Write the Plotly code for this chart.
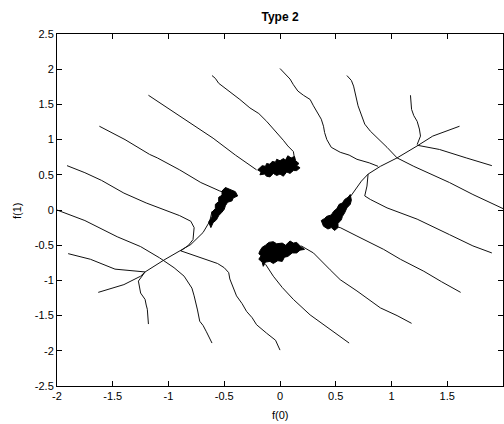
import plotly.graph_objects as go

# ---- trajectories (data coordinates f(0), f(1)) ----
traj_a_x = [-2.0, -1.75, -1.46, -1.25, -1.08, -0.95, -0.86, -0.79, -0.77, -0.75, -0.74, -0.72, -0.69, -0.66, -0.63, -0.61]
traj_a_y = [0.0, -0.15, -0.38, -0.52, -0.68, -0.82, -0.94, -1.11, -1.22, -1.33, -1.42, -1.58, -1.64, -1.73, -1.82, -1.89]

traj_b_x = [-1.91, -1.75, -1.60, -1.40, -1.20, -1.01, -0.90, -0.80, -0.77, -0.78, -0.82, -0.89]
traj_b_y = [0.63, 0.53, 0.42, 0.24, 0.10, -0.02, -0.08, -0.16, -0.25, -0.42, -0.50, -0.58]

traj_c_x = [-1.62, -1.39, -1.17, -1.10, -0.90, -0.71, -0.54, -0.48]
traj_c_y = [1.19, 1.00, 0.79, 0.74, 0.57, 0.39, 0.27, 0.24]

traj_d_x = [-1.18, -1.04, -0.90, -0.75, -0.60, -0.40, -0.21]
traj_d_y = [1.63, 1.48, 1.33, 1.18, 1.02, 0.78, 0.57]

traj_e_x = [-0.61, -0.58, -0.55, -0.45, -0.36, -0.27, -0.19, -0.12, -0.04, 0.03, 0.07, 0.12, 0.13]
traj_e_y = [1.91, 1.87, 1.80, 1.68, 1.57, 1.45, 1.37, 1.26, 1.12, 0.99, 0.91, 0.83, 0.73]

traj_f_x = [-1.63, -1.40, -1.25, -1.21, -1.04, -0.89, -0.80, -0.69, -0.63, -0.61]
traj_f_y = [-1.17, -1.06, -0.94, -0.88, -0.71, -0.58, -0.49, -0.32, -0.16, -0.02]

traj_g_x = [-1.90, -1.70, -1.48, -1.30, -1.21]
traj_g_y = [-0.62, -0.70, -0.84, -0.87, -0.88]

traj_h_x = [-1.21, -1.27, -1.25, -1.21, -1.20, -1.19, -1.18]
traj_h_y = [-0.88, -1.01, -1.18, -1.27, -1.35, -1.41, -1.62]

traj_i_x = [-0.89, -0.71, -0.56, -0.50, -0.46, -0.45, -0.42, -0.39, -0.34, -0.30, -0.25, -0.21, -0.12, -0.04, 0.0]
traj_i_y = [-0.58, -0.68, -0.76, -0.82, -0.89, -0.98, -1.10, -1.22, -1.33, -1.44, -1.53, -1.63, -1.75, -1.85, -1.99]

traj_j_x = [0.0, 0.05, 0.09, 0.12, 0.16, 0.21, 0.27, 0.30, 0.34, 0.37, 0.39, 0.40, 0.42, 0.46, 0.54, 0.62, 0.69, 0.80, 0.88]
traj_j_y = [2.01, 1.93, 1.86, 1.78, 1.69, 1.63, 1.57, 1.48, 1.38, 1.29, 1.19, 1.10, 1.00, 0.89, 0.82, 0.78, 0.72, 0.67, 0.62]

traj_k_x = [0.60, 0.64, 0.66, 0.68, 0.70, 0.73, 0.76, 0.81, 0.87, 0.96, 1.05, 1.20, 1.52, 1.73, 2.0]
traj_k_y = [1.91, 1.84, 1.76, 1.62, 1.48, 1.35, 1.22, 1.12, 1.03, 0.89, 0.74, 0.62, 0.39, 0.22, 0.02]

traj_l_x = [1.17, 1.18, 1.20, 1.23, 1.25, 1.26, 1.23]
traj_l_y = [1.63, 1.43, 1.34, 1.26, 1.15, 1.05, 0.93]

traj_m_x = [1.61, 1.37, 1.23, 1.05, 0.90, 0.79, 0.73, 0.66, 0.63, 0.60]
traj_m_y = [1.19, 1.05, 0.91, 0.74, 0.62, 0.51, 0.41, 0.25, 0.18, 0.12]

traj_n_x = [1.23, 1.30, 1.43, 1.67, 1.90]
traj_n_y = [0.92, 0.90, 0.86, 0.74, 0.63]

traj_o_x = [0.79, 0.78, 0.76, 0.81, 0.96, 1.23, 1.52, 1.73, 1.90]
traj_o_y = [0.51, 0.34, 0.20, 0.15, 0.03, -0.13, -0.35, -0.51, -0.61]

traj_p_x = [0.48, 0.54, 0.69, 0.93, 1.08, 1.29, 1.45, 1.62]
traj_p_y = [-0.23, -0.25, -0.37, -0.56, -0.70, -0.87, -1.02, -1.17]

traj_q_x = [0.19, 0.30, 0.45, 0.54, 0.69, 0.90, 1.05, 1.18]
traj_q_y = [-0.51, -0.61, -0.85, -0.99, -1.15, -1.39, -1.50, -1.61]

traj_r_x = [-0.13, -0.10, -0.06, 0.02, 0.12, 0.27, 0.45, 0.55, 0.62]
traj_r_y = [-0.77, -0.85, -0.94, -1.10, -1.27, -1.49, -1.70, -1.82, -1.89]

trajectories = [
    (traj_a_x, traj_a_y), (traj_b_x, traj_b_y), (traj_c_x, traj_c_y),
    (traj_d_x, traj_d_y), (traj_e_x, traj_e_y), (traj_f_x, traj_f_y),
    (traj_g_x, traj_g_y), (traj_h_x, traj_h_y), (traj_i_x, traj_i_y),
    (traj_j_x, traj_j_y), (traj_k_x, traj_k_y), (traj_l_x, traj_l_y),
    (traj_m_x, traj_m_y), (traj_n_x, traj_n_y), (traj_o_x, traj_o_y),
    (traj_p_x, traj_p_y), (traj_q_x, traj_q_y), (traj_r_x, traj_r_y),
]

# ---- noisy clusters near the equilibria (outlines) ----
blob_up_x = [-0.18, -0.16, -0.13, -0.12, -0.09, -0.07, -0.04, -0.03, 0.0, 0.03, 0.05, 0.07, 0.10, 0.13,
             0.14, 0.17, 0.15, 0.18, 0.15, 0.12, 0.09, 0.06, 0.03, 0.0, -0.03, -0.06, -0.09, -0.12,
             -0.14, -0.18, -0.17, -0.20, -0.18]
blob_up_y = [0.60, 0.63, 0.62, 0.66, 0.65, 0.69, 0.68, 0.72, 0.70, 0.73, 0.71, 0.77, 0.74, 0.76,
             0.70, 0.66, 0.63, 0.60, 0.56, 0.56, 0.52, 0.54, 0.48, 0.51, 0.49, 0.52, 0.47, 0.48,
             0.51, 0.50, 0.54, 0.57, 0.60]

blob_dn_x = [-0.18, -0.16, -0.13, -0.10, -0.06, -0.03, 0.02, 0.05, 0.09, 0.12, 0.15, 0.18, 0.22,
             0.18, 0.15, 0.11, 0.07, 0.04, 0.02, -0.02, -0.06, -0.09, -0.13, -0.15, -0.16, -0.19,
             -0.17, -0.19, -0.18]
blob_dn_y = [-0.58, -0.53, -0.50, -0.46, -0.45, -0.48, -0.47, -0.50, -0.44, -0.47, -0.46, -0.51, -0.56,
             -0.57, -0.61, -0.61, -0.66, -0.67, -0.73, -0.72, -0.76, -0.73, -0.74, -0.80, -0.74, -0.70,
             -0.65, -0.62, -0.58]

blob_ul_x = [-0.49, -0.45, -0.40, -0.38, -0.42, -0.43, -0.47, -0.49, -0.50, -0.52, -0.55, -0.57,
             -0.60, -0.62, -0.64, -0.61, -0.61, -0.58, -0.58, -0.55, -0.55, -0.52, -0.52, -0.49]
blob_ul_y = [0.32, 0.29, 0.26, 0.20, 0.17, 0.13, 0.11, 0.06, 0.01, -0.03, -0.08, -0.14,
             -0.18, -0.25, -0.17, -0.10, -0.03, 0.02, 0.08, 0.12, 0.18, 0.21, 0.27, 0.32]

blob_lr_x = [0.63, 0.64, 0.63, 0.60, 0.58, 0.56, 0.55, 0.52, 0.52, 0.49, 0.46, 0.43, 0.39,
             0.38, 0.37, 0.40, 0.42, 0.46, 0.48, 0.51, 0.53, 0.56, 0.58, 0.61, 0.63]
blob_lr_y = [0.22, 0.14, 0.08, 0.03, -0.04, -0.09, -0.14, -0.19, -0.25, -0.29, -0.25, -0.27, -0.23,
             -0.19, -0.15, -0.12, -0.09, -0.07, -0.02, 0.02, 0.08, 0.10, 0.15, 0.18, 0.22]

blobs = [(blob_up_x, blob_up_y), (blob_dn_x, blob_dn_y),
         (blob_ul_x, blob_ul_y), (blob_lr_x, blob_lr_y)]

x_ticks = [-2, -1.5, -1, -0.5, 0, 0.5, 1, 1.5, 2]
x_tick_text = ["-2", "-1.5", "-1", "-0.5", "0", "0.5", "1", "1.5", "2"]
y_ticks = [-2.5, -2, -1.5, -1, -0.5, 0, 0.5, 1, 1.5, 2, 2.5]
y_tick_text = ["-2.5", "-2", "-1.5", "-1", "-0.5", "0", "0.5", "1", "1.5", "2", "2.5"]

fig = go.Figure()
for tx, ty in trajectories:
    fig.add_trace(go.Scatter(x=tx, y=ty, mode="lines",
                             line=dict(color="#111111", width=1), hoverinfo="skip"))
for bx, by in blobs:
    fig.add_trace(go.Scatter(x=bx, y=by, mode="lines", fill="toself",
                             fillcolor="#000000",
                             line=dict(color="#000000", width=1), hoverinfo="skip"))

font = dict(family="Liberation Sans, Arial, sans-serif", size=11, color="black")
axis_common = dict(showgrid=False, zeroline=False, showline=True, linecolor="black",
                   linewidth=1, mirror="ticks", ticks="inside", ticklen=5,
                   tickcolor="black", tickfont=font)

fig.update_layout(
    width=504, height=424,
    margin=dict(l=57, r=1, t=34, b=38),
    paper_bgcolor="white", plot_bgcolor="white",
    showlegend=False,
    font=font,
    title=dict(text="<b>Type 2</b>", x=0.5, xref="paper", y=1 - 17 / 424,
               yref="container", xanchor="center", yanchor="middle",
               font=dict(family="Liberation Sans, Arial, sans-serif", size=12, color="black")),
    xaxis=dict(range=[-2, 2], tickvals=x_ticks, ticktext=x_tick_text, **axis_common),
    yaxis=dict(range=[-2.5, 2.5], tickvals=y_ticks, ticktext=y_tick_text, **axis_common),
    annotations=[
        dict(text="f(0)", x=0.5, y=-0.083, xref="paper", yref="paper",
             xanchor="center", yanchor="middle", showarrow=False, font=font),
        dict(text="f(1)", x=-0.0897, y=0.5, xref="paper", yref="paper",
             xanchor="center", yanchor="middle", showarrow=False, textangle=-90, font=font),
    ],
)

fig.write_html("out.html")
